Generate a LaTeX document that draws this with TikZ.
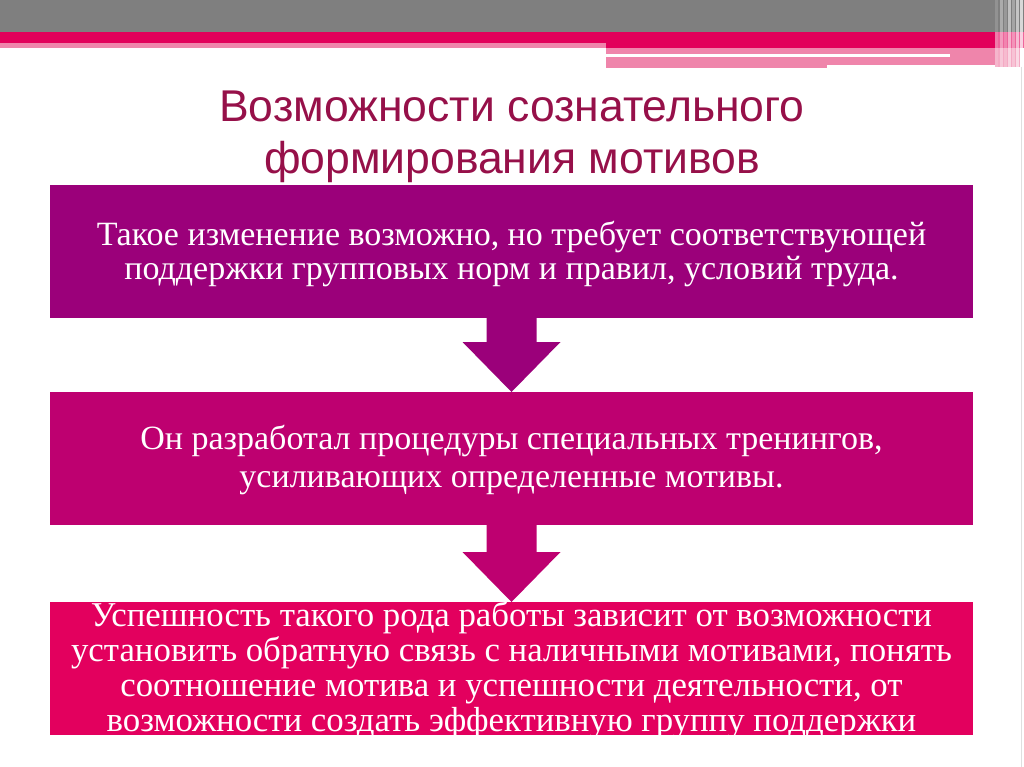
\documentclass[tikz,border=0pt]{standalone}
\usepackage{fontspec}
\setmainfont{Liberation Serif}
\newfontfamily\titlefont{Liberation Sans}
\newfontfamily\stagefont{Liberation Serif}
\usetikzlibrary{positioning}

\definecolor{headgray}{HTML}{7F7F7F}
\definecolor{headred}{HTML}{E2005A}
\definecolor{headpink}{HTML}{EF85AB}
\definecolor{titlered}{HTML}{961049}
\definecolor{stageone}{HTML}{9B007A}
\definecolor{stagetwo}{HTML}{BE0070}
\definecolor{stagethree}{HTML}{E3005E}

\begin{document}
\begin{tikzpicture}[x=1pt,y=-1pt]

 \tikzset{
    stage/.style={minimum width=923pt, minimum height=133pt, inner sep=0pt, outer sep=0pt},
    stagetext/.style={text=white, align=center, inner sep=0pt},
  }

  \useasboundingbox (0,0) rectangle (1024,767);

  % header bars
  \fill[headgray] (0,0) rectangle (1024,32);
  \fill[headred] (0,32) rectangle (1000,43);
  \fill[headpink] (0,43) rectangle (606,48);
  \fill[headred] (606,43) rectangle (1000,48);
  \fill[headpink] (606,48) rectangle (1000,54);
  \fill[headpink] (606,57) rectangle (827,68);
  \fill[headpink] (827,57) rectangle (1007,65);
  \fill[headpink] (950,54) rectangle (1007,57);
  \fill[headred!60] (995,32) rectangle (1024,48);
  \fill[headpink!70] (995,48) rectangle (1020,67);
  \foreach \x/\o in {995/0.15, 1000/0.35, 1004/0.2, 1008/0.5, 1012/0.3, 1016/0.55, 1020/0.7}
    \fill[white, opacity=\o] (\x,0) rectangle ++(2.5,67);
  \draw[gray!25, line width=1pt] (1021,67) -- (1021,767);

  % title
  \node[font=\titlefont\fontsize{44.5}{52}\selectfont, text=titlered, align=center] (title) at (512,137)
    {Возможности сознательного\\формирования мотивов};

  % stages
  \node[stage, fill=stageone] (b1) at (511.5,251.5) {};
  \node[stage, fill=stagetwo, below=74pt of b1] (b2) {};
  \node[stage, fill=stagethree, below=77pt of b2] (b3) {};

  \node[stagetext, font=\stagefont\fontsize{34}{34}\selectfont] (t1) at ([yshift=-2pt]b1.center)
    {Такое изменение возможно, но требует соответствующей\\поддержки групповых норм и правил, условий труда.};
  \node[stagetext, font=\stagefont\fontsize{34}{38}\selectfont] (t2) at ([yshift=-1pt]b2.center)
    {Он разработал процедуры специальных тренингов,\\усиливающих определенные мотивы.};
  \node[stagetext, font=\stagefont\fontsize{34.8}{35}\selectfont] (t3) at ([yshift=-2pt]b3.center)
    {Успешность такого рода работы зависит от возможности\\установить обратную связь с наличными мотивами, понять\\соотношение мотива и успешности деятельности, от\\возможности создать эффективную группу поддержки};

  % arrows between stages
  \fill[stageone] ([xshift=-25pt]b1.south) -- ++(0,24) -- ++(-24,0) -- (b2.north)
    -- ++(49,-50) -- ++(-24,0) -- ([xshift=25pt]b1.south) -- cycle;
  \fill[stagetwo] ([xshift=-25pt]b2.south) -- ++(0,27) -- ++(-24,0) -- (b3.north)
    -- ++(49,-50) -- ++(-24,0) -- ([xshift=25pt]b2.south) -- cycle;

\end{tikzpicture}
\end{document}
